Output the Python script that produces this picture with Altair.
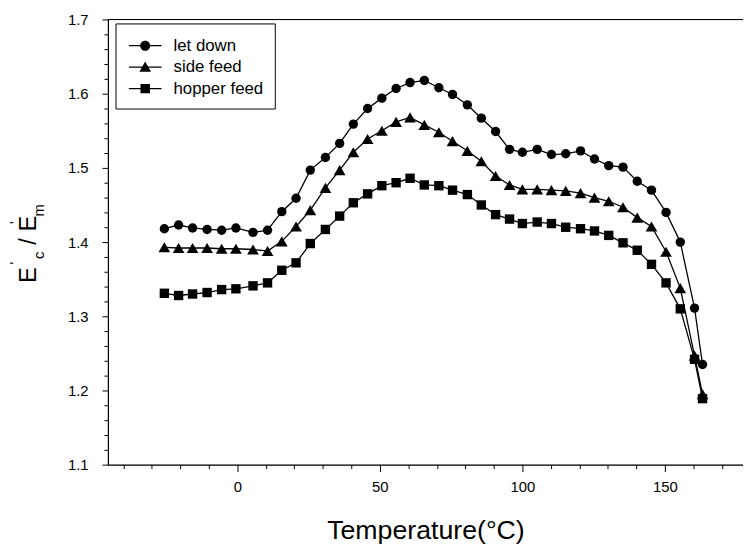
import altair as alt
import pandas as pd

# ---- data ----
temps = [-25.6, -20.6, -15.7, -10.6, -5.5, -0.5, 5.5, 10.6, 15.6, 20.6, 25.6, 30.9,
         35.9, 40.7, 45.7, 50.7, 55.7, 60.6, 65.6, 70.7, 75.5, 80.7, 85.6, 90.6,
         95.5, 100.0, 105.2, 110.2, 115.2, 120.4, 125.3, 130.3, 135.3, 140.3,
         145.3, 150.4, 155.4, 160.4, 163.2]
let_down = [1.418, 1.423, 1.419, 1.417, 1.416, 1.419, 1.413, 1.416, 1.441, 1.459,
            1.497, 1.514, 1.533, 1.559, 1.580, 1.594, 1.607, 1.615, 1.618, 1.608,
            1.599, 1.585, 1.567, 1.549, 1.525, 1.521, 1.525, 1.518, 1.519, 1.523,
            1.512, 1.503, 1.501, 1.482, 1.470, 1.440, 1.400, 1.311, 1.235]
side_feed = [1.393, 1.392, 1.392, 1.392, 1.391, 1.391, 1.390, 1.388, 1.401, 1.421,
             1.443, 1.473, 1.497, 1.521, 1.539, 1.550, 1.562, 1.568, 1.558, 1.548,
             1.536, 1.523, 1.509, 1.489, 1.477, 1.471, 1.471, 1.470, 1.469, 1.466,
             1.460, 1.455, 1.447, 1.433, 1.421, 1.387, 1.338, 1.247, 1.195]
hopper_feed = [1.331, 1.328, 1.330, 1.332, 1.336, 1.337, 1.341, 1.345, 1.362, 1.372,
               1.398, 1.417, 1.435, 1.453, 1.465, 1.476, 1.480, 1.486, 1.477, 1.476,
               1.470, 1.464, 1.450, 1.437, 1.431, 1.425, 1.427, 1.425, 1.420, 1.418,
               1.415, 1.409, 1.399, 1.389, 1.370, 1.345, 1.310, 1.242, 1.189]
series_names = ["let down", "side feed", "hopper feed"]
x_ticks = list(range(-40, 180, 10))
y_ticks = [round(1.1 + 0.02 * i, 2) for i in range(31)]
x_title = "Temperature(°C)"
# y title pieces: text, font size, x, y (plot px)
y_title_pieces = [
    ("E", 24, -73, 258.3),
    ("'", 14, -89, 246.3),
    ("c", 15, -65, 238.3),
    ("/", 24, -73, 224.3),
    ("E", 24, -73, 206.3),
    ("'", 14, -89, 205.3),
    ("m", 15, -65, 192.8),
]

rows = []
for name, vals in zip(series_names, [let_down, side_feed, hopper_feed]):
    for t, v in zip(temps, vals):
        rows.append({"T": t, "ratio": v, "series": name})
df = pd.DataFrame(rows)

W, H = 642, 450
FONT = "Liberation Sans"

x_scale = alt.Scale(domain=[-45.4, 177.4], nice=False, zero=False)
y_scale = alt.Scale(domain=[1.1, 1.7], nice=False, zero=False)

x_axis = alt.Axis(
    values=x_ticks,
    labelExpr="datum.value % 50 === 0 ? datum.label : ''",
    tickSize={"condition": {"test": "datum.value % 50 === 0", "value": 7}, "value": 4},
    labelFontSize=15, labelPadding=8, labelFont=FONT, labelColor="black",
    labelOverlap=False, labelFlush=False,
    title=x_title, titleFontSize=27, titleFont=FONT, titleFontWeight="normal",
    titleColor="black", titlePadding=24,
    grid=False, domainColor="black", domainWidth=1.2, tickColor="black", tickWidth=1,
)
y_axis = alt.Axis(
    values=y_ticks,
    labelExpr="abs(datum.value*10 - round(datum.value*10)) < 0.001 ? format(datum.value, '.1f') : ''",
    tickSize={"condition": {"test": "abs(datum.value*10 - round(datum.value*10)) < 0.001", "value": 6}, "value": 4},
    labelFontSize=15, labelPadding=14, labelFont=FONT, labelColor="black",
    labelOverlap=False, labelFlush=False,
    title=None,
    grid=False, domainColor="black", domainWidth=1.2, tickColor="black", tickWidth=1,
)

X = alt.X("T:Q", scale=x_scale, axis=x_axis)
Y = alt.Y("ratio:Q", scale=y_scale, axis=y_axis)

base = alt.Chart(df)

lines = base.mark_line(color="black", strokeWidth=1.3).encode(
    x=X, y=Y, detail="series:N"
)

points = base.mark_point(filled=True, color="black", opacity=1).encode(
    x=X, y=Y,
    shape=alt.Shape("series:N",
                    scale=alt.Scale(domain=series_names, range=["circle", "triangle-up", "square"]),
                    legend=None),
    size=alt.Size("series:N",
                  scale=alt.Scale(type="ordinal", domain=series_names, range=[90, 140, 90]),
                  legend=None),
)

# legend symbols: a thin filled bar (the line) plus the filled marker
bar = "M-1.52,-0.06H1.52V0.06H-1.52Z"
circ = bar + "M-0.47,0A0.47,0.47,0,1,1,0.47,0A0.47,0.47,0,1,1,-0.47,0Z"
tri = bar + "M0,-0.52L0.54,0.42L-0.54,0.42Z"
sq = bar + "M-0.44,-0.44H0.44V0.44H-0.44Z"

legend_layer = base.mark_point(filled=True, color="black", size=471, opacity=0).encode(
    x=X, y=Y,
    shape=alt.Shape("series:N",
                    scale=alt.Scale(domain=series_names, range=[circ, tri, sq]),
                    legend=alt.Legend(orient="none", legendX=7.7, legendY=4, title=None,
                                      padding=11.5, strokeColor="black", fillColor="white",
                                      cornerRadius=0, symbolOffset=7.5, labelOffset=17.6,
                                      rowPadding=2.7, labelFontSize=17, labelFont=FONT,
                                      labelColor="black", symbolSize=471,
                                      symbolFillColor="black", symbolStrokeWidth=0,
                                      symbolOpacity=1, labelLimit=300)),
)

top_rule = alt.Chart(alt.Data(values=[{"a": 1}])).mark_rule(color="black", strokeWidth=1.2).encode(
    x=alt.value(0), x2=alt.value(W), y=alt.value(0)
)

title_layers = []
for txt, fs, px, py in y_title_pieces:
    title_layers.append(
        alt.Chart(alt.Data(values=[{"t": txt}])).mark_text(
            angle=270, fontSize=fs, font=FONT, color="black",
            align="center", baseline="alphabetic"
        ).encode(x=alt.value(px), y=alt.value(py), text="t:N")
    )

chart = alt.layer(lines, points, legend_layer, top_rule, *title_layers).resolve_scale(
    shape="independent", size="independent"
).properties(
    width=W, height=H,
    padding={"left": 101, "top": 8.7, "right": 0, "bottom": 80},
    autosize=alt.AutoSizeParams(type="none"),
).configure_view(stroke=None).configure(font=FONT)

chart.save("out.html", embed_options={"renderer": "svg", "actions": False})
